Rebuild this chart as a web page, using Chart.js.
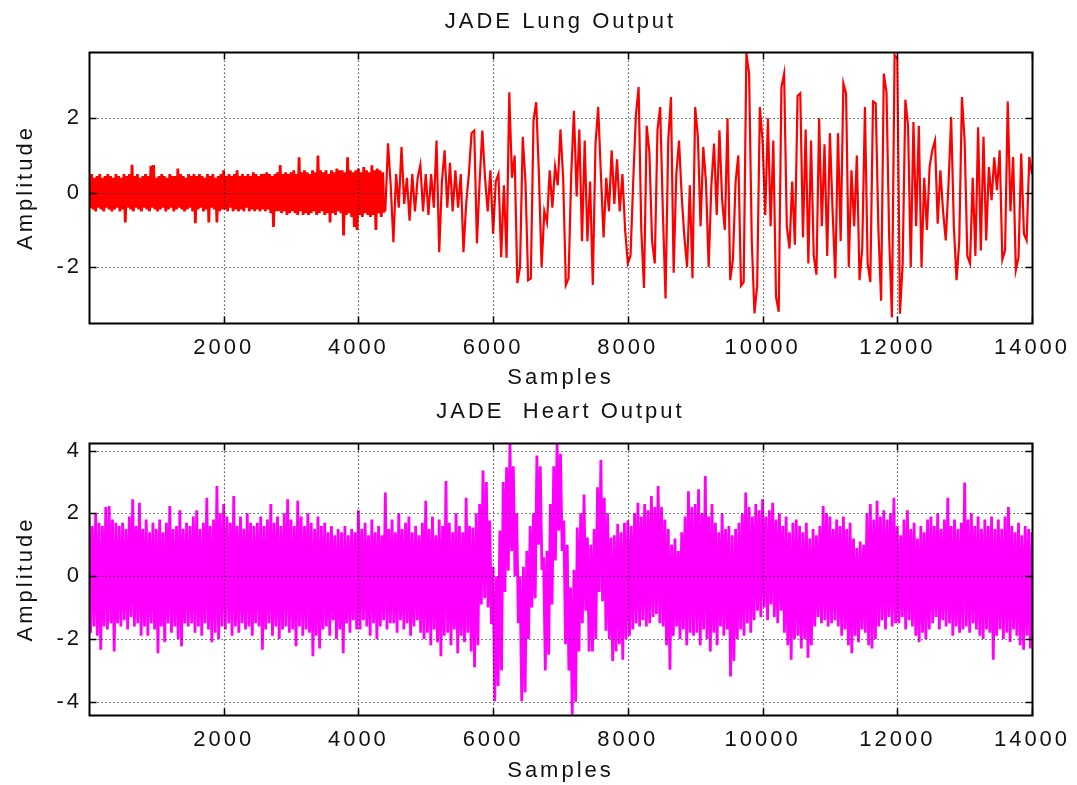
<!DOCTYPE html>
<html>
<head>
<meta charset="utf-8">
<script src="https://cdn.jsdelivr.net/npm/chart.js@4.4.1/dist/chart.umd.min.js"></script>
<style>
  html, body { margin: 0; padding: 0; background: #fff; }
  #wrap { position: relative; width: 1077px; height: 785px; overflow: hidden; }
  canvas { position: absolute; left: 0; }
  #lung { top: 0; }
  #heart { top: 392px; }
</style>
</head>
<body>
<div id="wrap">
  <canvas id="lung" width="1077" height="392"></canvas>
  <canvas id="heart" width="1077" height="393"></canvas>
</div>
<script>
// Separated source 1 (lung). The quiet opening stretch is listed every
// 20 samples, the rest every 40 samples.
const LUNG_EARLY_STEP = 20;
const lungEarly = [
  0.45,-0.4,0.5,-0.45,0.4,-0.5,0.45,-0.4,0.5,-0.45,
  0.4,-0.5,0.45,-0.4,0.5,-0.45,0.45,-0.5,0.4,-0.45,
  0.5,-0.4,0.45,-0.5,0.4,-0.45,0.5,-0.8,0.45,-0.4,
  0.5,-0.45,0.75,-0.5,0.45,-0.4,0.5,-0.45,0.4,-0.5,
  0.45,-0.4,0.5,-0.45,0.45,-0.5,0.72,-0.4,0.74,-0.45,
  0.4,-0.5,0.45,-0.45,0.5,-0.4,0.45,-0.5,0.4,-0.45,
  0.5,-0.4,0.45,-0.5,0.45,-0.45,0.65,-0.4,0.5,-0.45,
  0.45,-0.5,0.4,-0.45,0.5,-0.4,0.45,-0.5,0.5,-0.82,
  0.45,-0.45,0.5,-0.4,0.45,-0.5,0.4,-0.45,0.5,-0.8,
  0.45,-0.4,0.5,-0.45,0.4,-0.8,0.45,-0.5,0.5,-0.45,
  0.6,-0.45,0.45,-0.5,0.5,-0.4,0.45,-0.5,0.5,-0.45,
  0.6,-0.5,0.45,-0.45,0.5,-0.5,0.45,-0.4,0.5,-0.5,
  0.45,-0.45,0.55,-0.5,0.5,-0.45,0.45,-0.5,0.5,-0.45,
  0.5,-0.5,0.55,-0.45,0.5,-0.55,0.45,-0.92,0.5,-0.5,
  0.55,-0.5,0.74,-0.55,0.5,-0.5,0.55,-0.6,0.5,-0.55,
  0.55,-0.5,0.6,-0.55,0.5,-0.6,0.95,-0.5,0.55,-0.6,
  0.6,-0.55,0.55,-0.6,0.5,-0.55,0.6,-0.5,0.55,-0.6,
  1.0,-0.55,0.6,-0.5,0.55,-0.6,0.6,-0.55,0.5,-0.8,
  0.6,-0.55,0.55,-0.6,0.65,-0.5,0.6,-0.55,0.6,-1.15,
  0.55,-0.6,0.95,-0.55,0.6,-0.65,0.55,-0.92,0.6,-1.0,
  0.65,-0.6,0.55,-0.65,0.69,-0.55,0.6,-0.6,0.55,-0.65,
  0.74,-0.6,0.6,-1.0,0.65,-0.55,0.6,-0.65,0.55,-0.5
];
const LUNG_LATE_START = 4400;
const LUNG_LATE_STEP = 40;
const lungLate = [
  -0.5,1.33,0.2,-1.33,0.5,-0.4,1.23,-0.3,0.4,-0.75,
  0.5,-0.5,0.4,0.75,-0.5,0.5,-0.6,0.5,-0.4,1.4,
  -1.6,0.3,1.14,-0.4,0.8,-0.5,0.6,-0.4,0.5,-1.6,
  -0.3,0.5,1.6,1.67,-1.36,0.3,1.67,0.4,-0.5,0.6,
  -1.1,0.3,0.5,-1.73,0.2,-1.75,2.7,0.4,1.0,-2.43,
  -2.0,1.5,0.3,-2.35,-2.3,1.95,2.43,0.5,-2.0,-0.5,
  -0.8,0.6,-0.4,0.7,0.2,1.7,0.4,-2.48,-2.3,0.5,
  2.2,-0.1,1.7,-1.3,1.4,-1.3,0.3,-2.48,1.3,2.3,
  0.5,-1.2,0.4,-0.5,1.14,-0.3,0.9,-0.5,0.5,-1.0,
  -1.9,-1.7,0.3,2.08,2.84,-1.0,-2.56,1.8,1.1,-1.3,
  -1.9,1.68,2.3,-0.5,-2.84,1.4,2.57,-2.15,0.5,1.4,
  -0.1,-1.2,-2.0,0.2,-2.3,2.3,1.5,-0.9,1.23,0.3,
  -2.0,0.2,1.32,-0.6,1.68,-0.2,-1.0,2.0,-2.35,-1.8,
  0.3,1.0,-2.5,-2.4,3.75,3.2,-1.3,-3.24,-2.5,2.3,
  1.4,-0.6,2.0,-0.9,1.4,-2.8,-3.2,2.84,3.2,-0.9,
  -1.5,0.3,-1.4,2.6,2.67,-1.2,1.7,-1.9,1.4,-1.7,
  -2.2,2.0,-0.9,1.3,-1.7,1.6,-0.5,-2.3,1.6,-1.3,
  2.94,2.67,-2.0,0.6,-0.9,1.0,-2.35,-1.5,2.3,-1.9,
  -2.4,2.45,2.4,-1.0,-2.9,3.2,2.7,-1.2,-3.35,3.7,
  3.6,-3.25,-1.9,2.5,1.8,-2.0,1.9,-0.9,1.8,-2.0,
  0.4,-1.0,0.7,1.14,1.4,-0.83,0.6,-0.5,-1.28,0.2,
  2.03,-0.9,-2.35,-1.3,2.57,1.4,-1.7,-1.9,0.4,-1.7,
  1.76,-1.55,1.5,-1.28,0.69,-0.2,0.95,0.07,1.14,-1.8,
  -1.55,2.45,-0.5,0.96,-2.08,-1.73,1.05,-1.1,-1.28,0.96,0.5
];

// Separated source 2 (heart): highest and lowest excursion in each block
// of HEART_STEP samples (the high at the block start, the low half a block later).
const HEART_STEP = 50;
const heartUpper = [
  1.9,1.6,2.0,1.7,1.6,2.2,2.23,1.8,1.7,1.6,
  1.7,1.5,1.9,2.45,1.6,2.34,1.5,1.8,1.4,1.7,
  1.5,1.8,1.4,1.7,2.23,1.5,1.6,2.1,1.5,1.7,
  1.6,1.9,2.1,1.5,1.7,2.5,1.6,1.8,2.87,2.0,
  2.3,1.9,1.7,2.55,1.6,1.9,1.5,2.0,1.7,1.6,
  1.7,1.9,1.6,1.8,2.3,1.7,1.9,1.6,2.0,2.45,
  1.8,1.6,2.4,1.9,1.6,2.0,1.7,1.5,1.9,1.6,
  1.7,1.4,1.6,1.3,1.5,1.4,1.6,1.3,1.5,1.4,
  2.1,1.5,1.7,1.3,1.8,1.4,1.6,1.3,2.66,1.5,
  1.8,1.4,2.0,1.5,1.7,1.9,1.4,1.6,1.3,1.7,
  2.4,1.5,1.9,1.3,1.8,1.6,3.03,1.7,1.4,2.0,
  1.6,1.4,2.5,1.6,1.55,2.0,2.3,3.36,3.0,1.77,
  0.3,0.0,1.45,3.0,3.47,4.26,3.5,2.0,0.0,0.3,
  0.8,1.6,2.0,3.84,3.5,0.6,0.8,2.3,3.5,4.26,
  3.9,1.77,1.0,-0.36,0.2,1.55,2.0,2.6,1.23,1.0,
  1.5,2.83,3.7,2.5,2.0,1.23,1.3,1.66,1.4,1.7,
  1.77,1.6,2.0,2.34,1.9,2.3,2.1,2.55,2.2,2.87,
  2.2,1.8,1.5,1.0,1.2,0.8,1.4,1.9,2.7,2.2,
  2.3,2.77,2.0,3.19,1.9,2.3,1.7,1.4,2.0,1.5,
  1.6,1.3,1.5,1.7,2.0,2.66,2.2,1.9,2.3,2.1,
  2.45,1.9,2.1,2.34,1.8,2.0,1.6,1.9,1.4,1.7,
  1.8,1.6,1.4,1.7,1.2,1.5,1.3,1.6,2.23,2.0,
  1.9,1.5,1.8,1.6,1.9,1.5,1.7,1.2,0.9,1.1,
  1.0,2.0,2.3,1.8,2.4,1.9,2.1,1.8,2.0,2.5,
  1.6,1.3,1.8,2.1,1.5,1.7,1.2,1.6,1.4,1.8,
  1.9,1.6,2.0,1.5,1.8,2.5,1.6,1.8,1.5,1.7,
  2.98,1.8,2.0,1.6,1.9,1.5,1.8,1.6,1.9,1.5,
  1.8,1.5,1.9,2.2,1.6,1.4,1.7,1.3,1.6,1.5,1.4
];
const heartLower = [
  -1.8,-1.6,-1.9,-2.34,-1.6,-1.7,-1.5,-2.4,-1.5,-1.6,
  -1.4,-1.7,-1.3,-1.6,-1.5,-1.9,-1.6,-1.9,-1.5,-1.7,
  -2.45,-1.6,-2.1,-1.5,-1.8,-1.6,-2.0,-2.23,-1.5,-1.6,
  -1.5,-1.8,-1.6,-1.9,-1.5,-1.7,-2.1,-1.8,-2.0,-1.6,
  -1.7,-1.5,-1.9,-1.6,-1.8,-1.5,-1.7,-1.6,-1.9,-1.5,
  -1.6,-2.34,-1.7,-1.5,-1.9,-1.6,-2.0,-1.7,-1.6,-1.8,
  -1.7,-2.23,-1.6,-1.9,-1.7,-1.8,-2.55,-1.9,-2.3,-1.7,
  -1.6,-1.9,-1.4,-2.0,-1.7,-2.45,-1.5,-1.8,-1.4,-1.7,
  -1.7,-1.4,-1.6,-1.9,-1.5,-2.0,-1.6,-1.4,-1.7,-1.5,
  -1.5,-1.8,-1.4,-1.7,-1.5,-1.9,-1.6,-1.4,-1.8,-2.0,
  -1.8,-2.2,-1.7,-2.1,-2.55,-1.9,-1.8,-2.2,-1.7,-2.45,
  -1.9,-2.1,-1.8,-2.4,-2.9,-2.2,-0.9,-0.7,-1.0,-1.53,
  -3.98,-3.5,-3.0,-0.5,0.17,0.8,0.0,-1.5,-3.98,-3.7,
  -2.0,-1.0,-0.7,1.0,0.2,-3.0,-2.5,-0.9,0.5,1.45,
  0.8,-2.17,-3.0,-4.4,-4.0,-2.4,-1.5,-1.1,-2.4,-2.4,
  -2.0,-0.5,-0.8,-1.74,-2.0,-2.7,-2.4,-2.17,-2.66,-2.0,
  -1.9,-1.7,-1.5,-1.6,-1.4,-1.6,-1.5,-1.3,-1.2,-1.5,
  -1.6,-2.2,-2.98,-1.9,-1.6,-2.0,-1.7,-2.2,-1.8,-1.9,
  -1.8,-2.2,-1.7,-2.0,-2.4,-1.8,-2.2,-1.6,-1.9,-1.7,
  -3.19,-2.7,-2.0,-1.7,-1.9,-1.5,-1.8,-1.4,-1.1,-1.3,
  -1.0,-1.4,-0.9,-1.3,-1.5,-1.1,-1.8,-2.2,-2.66,-2.0,
  -1.9,-2.3,-2.0,-2.6,-2.2,-1.6,-1.3,-1.5,-1.4,-1.6,
  -1.5,-1.4,-1.6,-1.9,-1.7,-2.2,-2.45,-1.9,-2.1,-1.7,
  -1.8,-2.2,-2.3,-2.0,-1.6,-1.4,-1.7,-1.3,-1.6,-1.5,
  -1.5,-1.3,-1.7,-1.4,-1.6,-1.9,-2.1,-1.8,-2.0,-1.7,
  -1.5,-1.3,-1.7,-1.4,-1.6,-1.5,-1.9,-1.6,-1.8,-1.7,
  -1.6,-1.8,-1.5,-1.7,-1.9,-2.0,-1.7,-1.8,-2.66,-1.9,
  -1.7,-2.0,-1.8,-2.1,-1.7,-1.9,-2.2,-2.34,-1.9,-2.3,-2.0
];

// Axis limits and tick positions
const sampleRange = [1, 14000];
const sampleTicks = [2000, 4000, 6000, 8000, 10000, 12000, 14000];
const lungRange = [-3.5, 3.78];
const lungTicks = [-2, 0, 2];
const heartRange = [-4.42, 4.24];
const heartTicks = [-4, -2, 0, 2, 4];

const FONT = "'Liberation Sans', Arial, Helvetica, sans-serif";
const TEXT = '#111';
const FS = 22;

// Wide glyph spacing for every label on the canvas
const spacedText = {
  id: 'spacedText',
  beforeDraw(chart) { chart.ctx.letterSpacing = '3px'; }
};

// Boxed axes with inward tick marks and a dotted grid drawn over the trace
const boxedAxes = {
  id: 'boxedAxes',
  afterDatasetsDraw(chart) {
    const { ctx, chartArea: a, scales: { x, y } } = chart;
    const L = Math.round(a.left) + 0.5, R = Math.round(a.right) + 0.5;
    const T = Math.round(a.top) + 0.5, B = Math.round(a.bottom) + 0.5;
    ctx.save();
    ctx.strokeStyle = 'rgba(0,0,0,0.8)';
    ctx.lineWidth = 1.2;
    ctx.setLineDash([1.2, 2.8]);
    ctx.beginPath();
    for (const t of x.ticks) {
      const px = Math.round(x.getPixelForValue(t.value)) + 0.5;
      if (px > L + 2 && px < R - 2) { ctx.moveTo(px, T); ctx.lineTo(px, B); }
    }
    for (const t of y.ticks) {
      const py = Math.round(y.getPixelForValue(t.value)) + 0.5;
      if (py > T + 2 && py < B - 2) { ctx.moveTo(L, py); ctx.lineTo(R, py); }
    }
    ctx.stroke();
    ctx.setLineDash([]);
    ctx.strokeStyle = '#000';
    ctx.lineWidth = 1.5;
    const tl = 7;
    ctx.beginPath();
    for (const t of x.ticks) {
      const px = Math.round(x.getPixelForValue(t.value)) + 0.5;
      ctx.moveTo(px, B); ctx.lineTo(px, B - tl);
      ctx.moveTo(px, T); ctx.lineTo(px, T + tl);
    }
    for (const t of y.ticks) {
      const py = Math.round(y.getPixelForValue(t.value)) + 0.5;
      ctx.moveTo(L, py); ctx.lineTo(L + tl, py);
      ctx.moveTo(R, py); ctx.lineTo(R - tl, py);
    }
    ctx.stroke();
    ctx.lineWidth = 2;
    ctx.strokeRect(L, T, R - L, B - T);
    ctx.restore();
  }
};

function axesOptions(title, yRange, yTicks, titlePad, xHeight) {
  return {
    responsive: false,
    animation: false,
    devicePixelRatio: 1,
    layout: { padding: { left: 0, right: 45, top: 0, bottom: 0 } },
    plugins: {
      legend: { display: false },
      tooltip: { enabled: false },
      title: {
        display: true, text: title, color: TEXT, fullSize: false,
        font: { family: FONT, size: FS, weight: 'normal', lineHeight: 1.2 },
        padding: titlePad
      }
    },
    scales: {
      x: {
        type: 'linear', min: sampleRange[0], max: sampleRange[1],
        afterBuildTicks: s => { s.ticks = sampleTicks.map(v => ({ value: v })); },
        afterFit: s => { s.height = xHeight; },
        grid: { display: false, drawTicks: false }, border: { display: false },
        ticks: { color: TEXT, padding: 12, maxRotation: 0, autoSkip: false,
                 font: { family: FONT, size: FS }, callback: v => String(v) },
        title: { display: true, text: 'Samples', color: TEXT,
                 font: { family: FONT, size: FS, lineHeight: 1.2 }, padding: { top: 0, bottom: 1 } }
      },
      y: {
        type: 'linear', min: yRange[0], max: yRange[1],
        afterBuildTicks: s => { s.ticks = yTicks.map(v => ({ value: v })); },
        afterFit: s => { s.width = 89; },
        grid: { display: false, drawTicks: false }, border: { display: false },
        ticks: { color: TEXT, padding: 7, autoSkip: false,
                 font: { family: FONT, size: FS }, callback: v => String(v) },
        title: { display: true, text: 'Amplitude', color: TEXT,
                 font: { family: FONT, size: FS, lineHeight: 1.2 }, padding: { top: 12.8, bottom: 0 } }
      }
    }
  };
}

const lungEarlyPoints = lungEarly.map((v, i) => ({ x: i * LUNG_EARLY_STEP, y: v }));
const lungLatePoints = lungLate.map((v, i) => ({ x: LUNG_LATE_START + i * LUNG_LATE_STEP, y: v }));

new Chart(document.getElementById('lung'), {
  type: 'line',
  data: {
    datasets: [
      { // dense opening stretch, drawn heavier so the band reads as solid
        data: lungEarlyPoints.concat(lungLatePoints.slice(0, 1)),
        borderColor: '#ff0000', borderWidth: 2.8, pointRadius: 0, tension: 0, clip: 0
      },
      {
        data: lungLatePoints,
        borderColor: '#ff0000', borderWidth: 2.2, pointRadius: 0, tension: 0, clip: 0
      }
    ]
  },
  options: axesOptions('JADE Lung Output', lungRange, lungTicks, { top: 8.8, bottom: 16.8 }, 69),
  plugins: [spacedText, boxedAxes]
});

// Each block contributes its high and then its low, so the trace swings
// between the two envelopes like the dense recording does.
const heartPoints = heartUpper.flatMap((v, i) => [
  { x: i * HEART_STEP, y: v },
  { x: i * HEART_STEP + HEART_STEP / 2, y: heartLower[i] }
]);

new Chart(document.getElementById('heart'), {
  type: 'line',
  data: {
    datasets: [{
      data: heartPoints,
      borderColor: '#ff00ff', borderWidth: 2.8, pointRadius: 0,
      borderJoinStyle: 'miter', tension: 0, clip: 0
    }]
  },
  options: axesOptions('JADE  Heart Output', heartRange, heartTicks, { top: 6.8, bottom: 17.8 }, 70),
  plugins: [spacedText, boxedAxes]
});
</script>
</body>
</html>
